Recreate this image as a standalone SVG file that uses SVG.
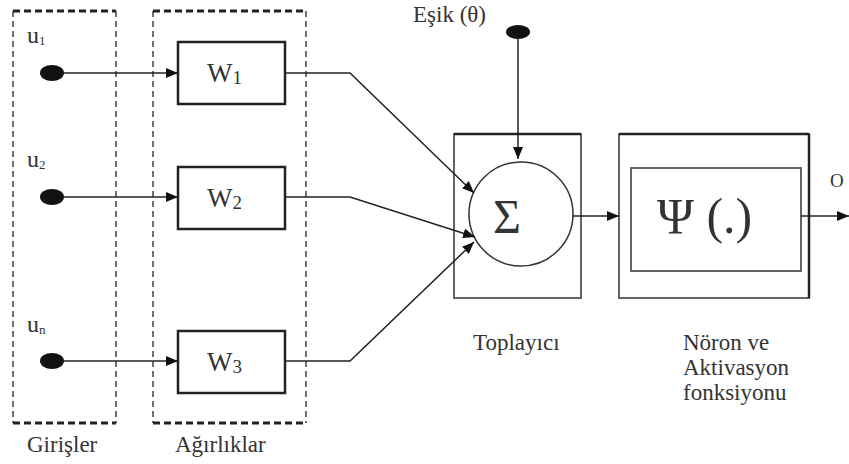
<svg xmlns="http://www.w3.org/2000/svg" width="849" height="464" viewBox="0 0 849 464">
<style>
.t{font-family:"Liberation Serif","DejaVu Serif",serif;fill:#333}
.lbl{font-size:23px}
.side{stroke:#333;stroke-width:1.4;stroke-dasharray:6,4;fill:none}
.edge{stroke:#222;stroke-width:3;stroke-dasharray:7,4;fill:none}
.wbox{fill:#fff;stroke:#222;stroke-width:2.5}
.ln{stroke:#222;stroke-width:1.5;fill:none}
.gbox{fill:#fff;stroke:#555;stroke-width:1.8}
</style>
<defs>
<marker id="ah" markerWidth="12" markerHeight="10" refX="12" refY="5" orient="auto" markerUnits="userSpaceOnUse">
<path d="M0,0 L12,5 L0,10 Z" fill="#111"/>
</marker>
</defs>

<g id="girisler">
<line class="side" x1="13" y1="11" x2="13" y2="423"/>
<line class="side" x1="116" y1="11" x2="116" y2="423"/>
<line class="edge" x1="13" y1="11" x2="116" y2="11"/>
<line class="edge" x1="13" y1="423" x2="116" y2="423"/>
<text class="t lbl" x="27" y="452">Girişler</text>
</g>

<g id="agirliklar">
<line class="side" x1="153" y1="11" x2="153" y2="423"/>
<line class="side" x1="306" y1="11" x2="306" y2="423"/>
<line class="edge" x1="153" y1="11" x2="306" y2="11"/>
<line class="edge" x1="153" y1="423" x2="306" y2="423"/>
<text class="t lbl" x="175" y="452">Ağırlıklar</text>
</g>

<g id="u1">
<ellipse cx="52" cy="73" rx="12" ry="8" fill="#111"/>
<text class="t" x="27" y="43" font-size="24">u<tspan font-size="13" dy="2">1</tspan></text>
</g>
<g id="u2">
<ellipse cx="52" cy="197" rx="12" ry="8" fill="#111"/>
<text class="t" x="27" y="167" font-size="24">u<tspan font-size="13" dy="2">2</tspan></text>
</g>
<g id="un">
<ellipse cx="52" cy="361" rx="12" ry="8" fill="#111"/>
<text class="t" x="27" y="332" font-size="24">u<tspan font-size="13" dy="2">n</tspan></text>
</g>

<g id="w1">
<rect class="wbox" x="178" y="42" width="107" height="62"/>
<text class="t" x="207" y="82" font-size="27">W<tspan font-size="19" dy="2">1</tspan></text>
</g>
<g id="w2">
<rect class="wbox" x="178" y="167" width="107" height="62"/>
<text class="t" x="207" y="207" font-size="27">W<tspan font-size="19" dy="2">2</tspan></text>
</g>
<g id="w3">
<rect class="wbox" x="178" y="331" width="107" height="62"/>
<text class="t" x="207" y="371" font-size="27">W<tspan font-size="19" dy="2">3</tspan></text>
</g>

<g id="esik">
<ellipse cx="518" cy="32" rx="12" ry="7" fill="#111"/>
<text class="t" x="413" y="22" font-size="23">Eşik (θ)</text>
</g>

<g id="toplayici">
<rect class="gbox" x="454" y="134" width="127" height="164"/>
<line x1="454" y1="134" x2="581" y2="134" stroke="#222" stroke-width="2.5"/>
<circle cx="521" cy="214" r="52" fill="#fff" stroke="#333" stroke-width="1.5"/>
<text class="t" x="507" y="233" font-size="48" text-anchor="middle">Σ</text>
<text class="t lbl" x="473" y="350">Toplayıcı</text>
</g>

<g id="noron">
<rect class="gbox" x="619" y="134" width="190" height="164"/>
<line x1="619" y1="134" x2="809" y2="134" stroke="#222" stroke-width="2.5"/>
<line x1="809" y1="134" x2="809" y2="298" stroke="#222" stroke-width="2.5"/>
<rect class="gbox" x="631" y="168" width="170" height="103"/>
<text class="t" x="657" y="233" font-size="50">Ψ (.)</text>
<text class="t lbl" x="683" y="350">Nöron ve</text>
<text class="t lbl" x="683" y="375">Aktivasyon</text>
<text class="t lbl" x="683" y="400">fonksiyonu</text>
</g>

<g id="output">
<text class="t" x="830" y="187" font-size="19">O</text>
</g>

<g id="connectors">
<line class="ln" x1="64" y1="73" x2="178" y2="73" marker-end="url(#ah)"/>
<line class="ln" x1="64" y1="197" x2="178" y2="197" marker-end="url(#ah)"/>
<line class="ln" x1="64" y1="361" x2="178" y2="361" stroke-width="2.2" marker-end="url(#ah)"/>
<polyline class="ln" points="285,73 350,73 474,193" marker-end="url(#ah)"/>
<polyline class="ln" points="285,197 350,197 475,237" marker-end="url(#ah)"/>
<polyline class="ln" points="285,361 350,361 474,242" stroke-width="1.8" marker-end="url(#ah)"/>
<line class="ln" x1="518" y1="38" x2="518" y2="159" stroke-width="2" marker-end="url(#ah)"/>
<line class="ln" x1="573" y1="216" x2="619" y2="216" marker-end="url(#ah)"/>
<line class="ln" x1="801" y1="216" x2="849" y2="216" marker-end="url(#ah)"/>
</g>
</svg>
